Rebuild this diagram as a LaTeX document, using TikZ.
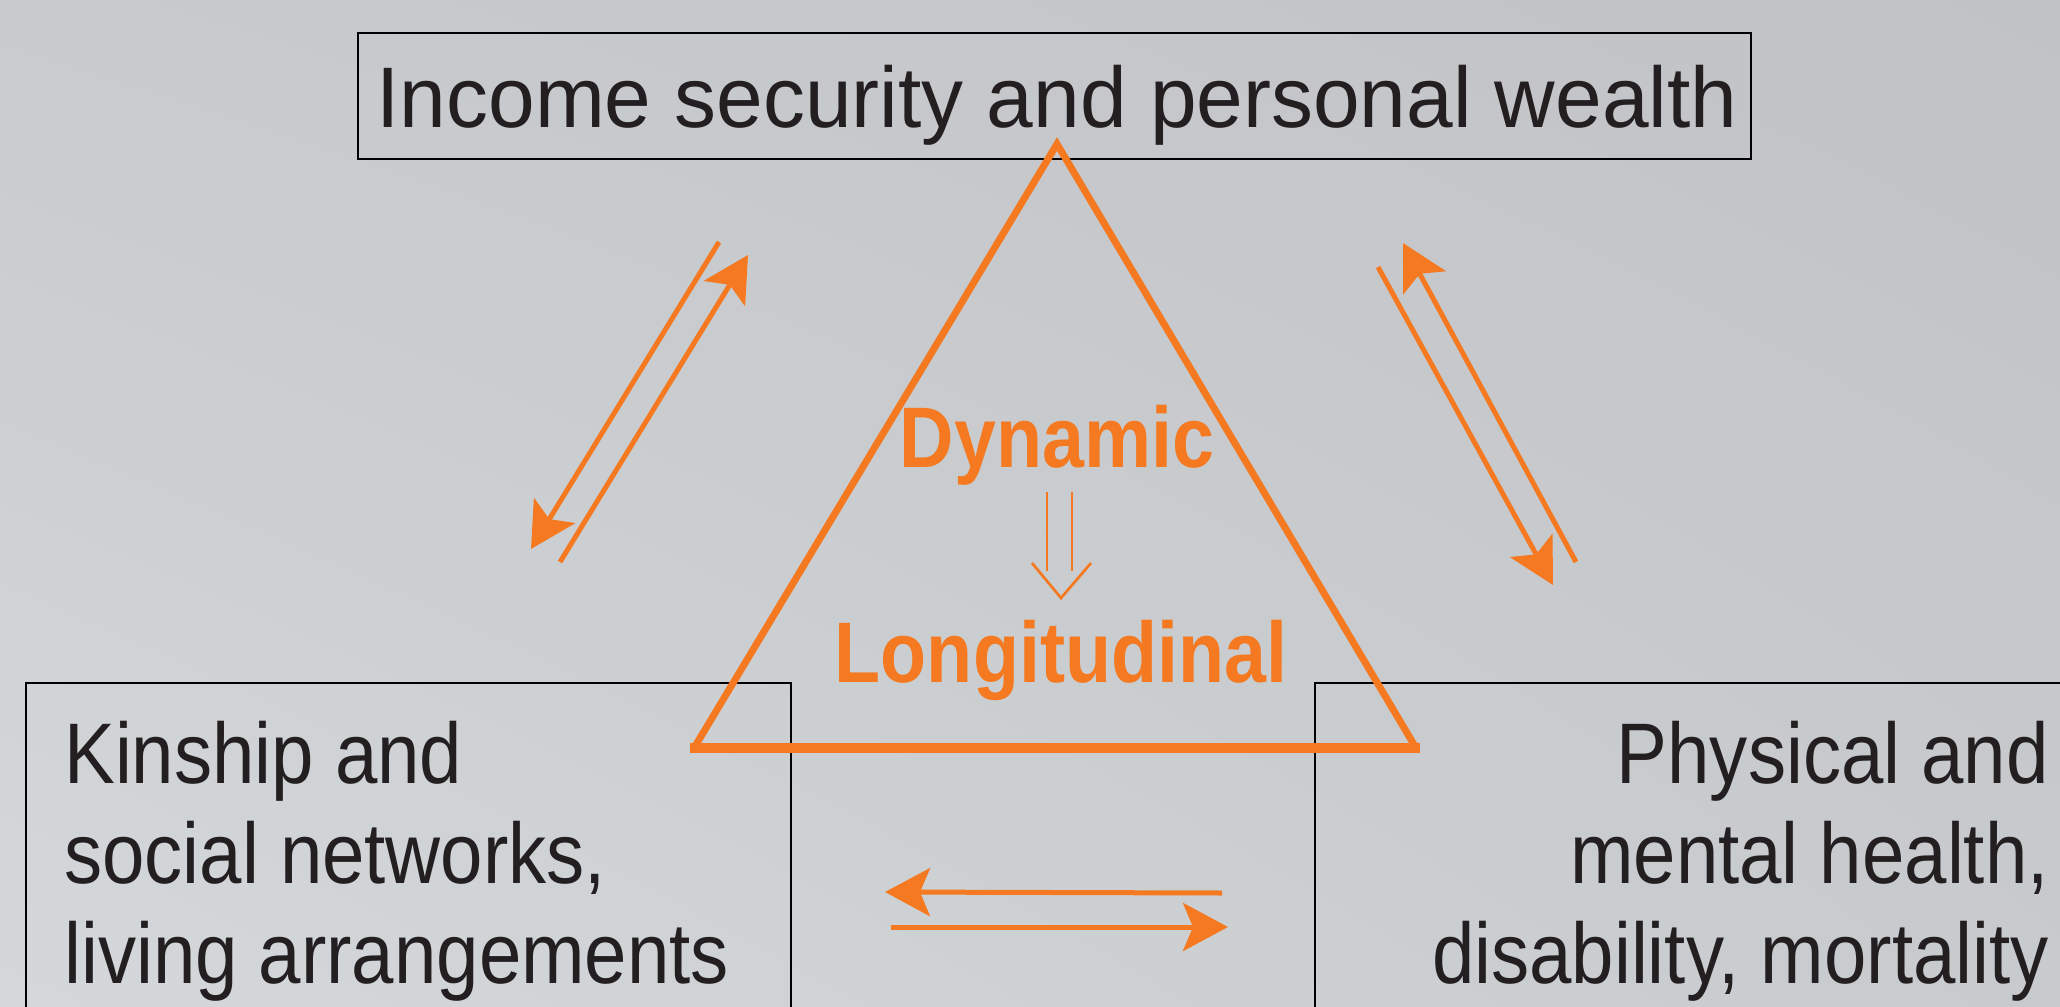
\documentclass[tikz,border=0pt]{standalone}
\usepackage{fontspec}
\setmainfont{Liberation Sans}
\newfontfamily\topfont[FakeStretch=0.975]{Liberation Sans}
\newfontfamily\condfont[FakeStretch=0.886]{Liberation Sans}
\newfontfamily\orgfont[FakeStretch=0.877]{Liberation Sans}
\usetikzlibrary{arrows.meta,shadings}
\definecolor{org}{HTML}{F47920}
\definecolor{ink}{HTML}{231F20}
\definecolor{bgtl}{HTML}{C8CBCE}
\definecolor{bgtr}{HTML}{C1C2C5}
\definecolor{bgbl}{HTML}{D4D8DB}
\definecolor{bgbr}{HTML}{C8CBCE}
\begin{document}
\begin{tikzpicture}[x=1pt,y=-1pt,
  box/.style={draw=black, line width=2.2pt, inner sep=0pt},
  txt/.style={inner sep=0pt, text=ink, font=\topfont\fontsize{86}{100}\selectfont},
  ctxt/.style={inner sep=0pt, text=ink, font=\condfont\fontsize{86}{100}\selectfont},
  otxt/.style={inner sep=0pt, text=org, font=\orgfont\bfseries\fontsize{86}{100}\selectfont},
  flow/.style={draw=org, line width=5pt, -{Stealth[length=45pt,width=48pt,inset=10pt]}},
  thin/.style={draw=org, line width=2.7pt},
  triside/.style={draw=org, line width=7pt, line join=miter},
  tribase/.style={draw=org, line width=9.5pt},
]
\shade[upper left=bgtl, upper right=bgtr, lower left=bgbl, lower right=bgbr] (0,0) rectangle (2060,1006);
\useasboundingbox (0,0) rectangle (2060,1006);
\clip (0,0) rectangle (2060,1006);

% boxes
\node[box, minimum width=1393pt, minimum height=126pt] (topbox) at (1054.5,96) {};
\node[box, minimum width=765pt, minimum height=367pt] (leftbox) at (408.5,866.5) {};
\node[box, minimum width=785pt, minimum height=367pt] (rightbox) at (1707.5,866.5) {};

% triangle
\coordinate (apex) at (1057,144);
\coordinate (bl) at (694,748);
\coordinate (br) at (1416,748);
\draw[triside] (bl) -- (apex) -- (br);
\draw[tribase] ([xshift=-4pt]bl) -- ([xshift=4pt]br);

% texts
\node[txt, anchor=base] (toptext) at (1057,128) {Income security and personal wealth};
\node[ctxt, anchor=base west] (l1) at (64,783) {Kinship and};
\node[ctxt, anchor=base west] (l2) at (64,883) {social networks,};
\node[ctxt, anchor=base west] (l3) at (64,983) {living arrangements};
\node[ctxt, anchor=base east] (r1) at (2049,783) {Physical and};
\node[ctxt, anchor=base east] (r2) at (2049,883) {mental health,};
\node[ctxt, anchor=base east] (r3) at (2049,983) {disability, mortality};
\node[otxt, anchor=base] (dyn) at (1057,467) {Dynamic};
\node[otxt, anchor=base] (long) at (1061,682) {Longitudinal};

% Dynamic => Longitudinal
\coordinate (d1s) at (1047,492); \coordinate (d1e) at (1047,571);
\coordinate (d2s) at (1072,492); \coordinate (d2e) at (1072,571);
\coordinate (cl) at (1032,563); \coordinate (ct) at (1061,598); \coordinate (cr) at (1091,563);
\draw[thin] (d1s) -- (d1e);
\draw[thin] (d2s) -- (d2e);
\draw[thin] (cl) -- (ct) -- (cr);

% left pair
\coordinate (a1s) at (719,242); \coordinate (a1e) at (531,549);
\coordinate (a2s) at (560,562); \coordinate (a2e) at (748,255);
\draw[flow] (a1s) -- (a1e);
\draw[flow] (a2s) -- (a2e);
% right pair
\coordinate (b1s) at (1378,267); \coordinate (b1e) at (1553,585);
\coordinate (b2s) at (1576,562); \coordinate (b2e) at (1403,243);
\draw[flow] (b1s) -- (b1e);
\draw[flow] (b2s) -- (b2e);
% bottom pair
\coordinate (c1s) at (1222,893); \coordinate (c1e) at (885,892);
\coordinate (c2s) at (891,927); \coordinate (c2e) at (1228,927);
\draw[flow] (c1s) -- (c1e);
\draw[flow] (c2s) -- (c2e);
\end{tikzpicture}
\end{document}
